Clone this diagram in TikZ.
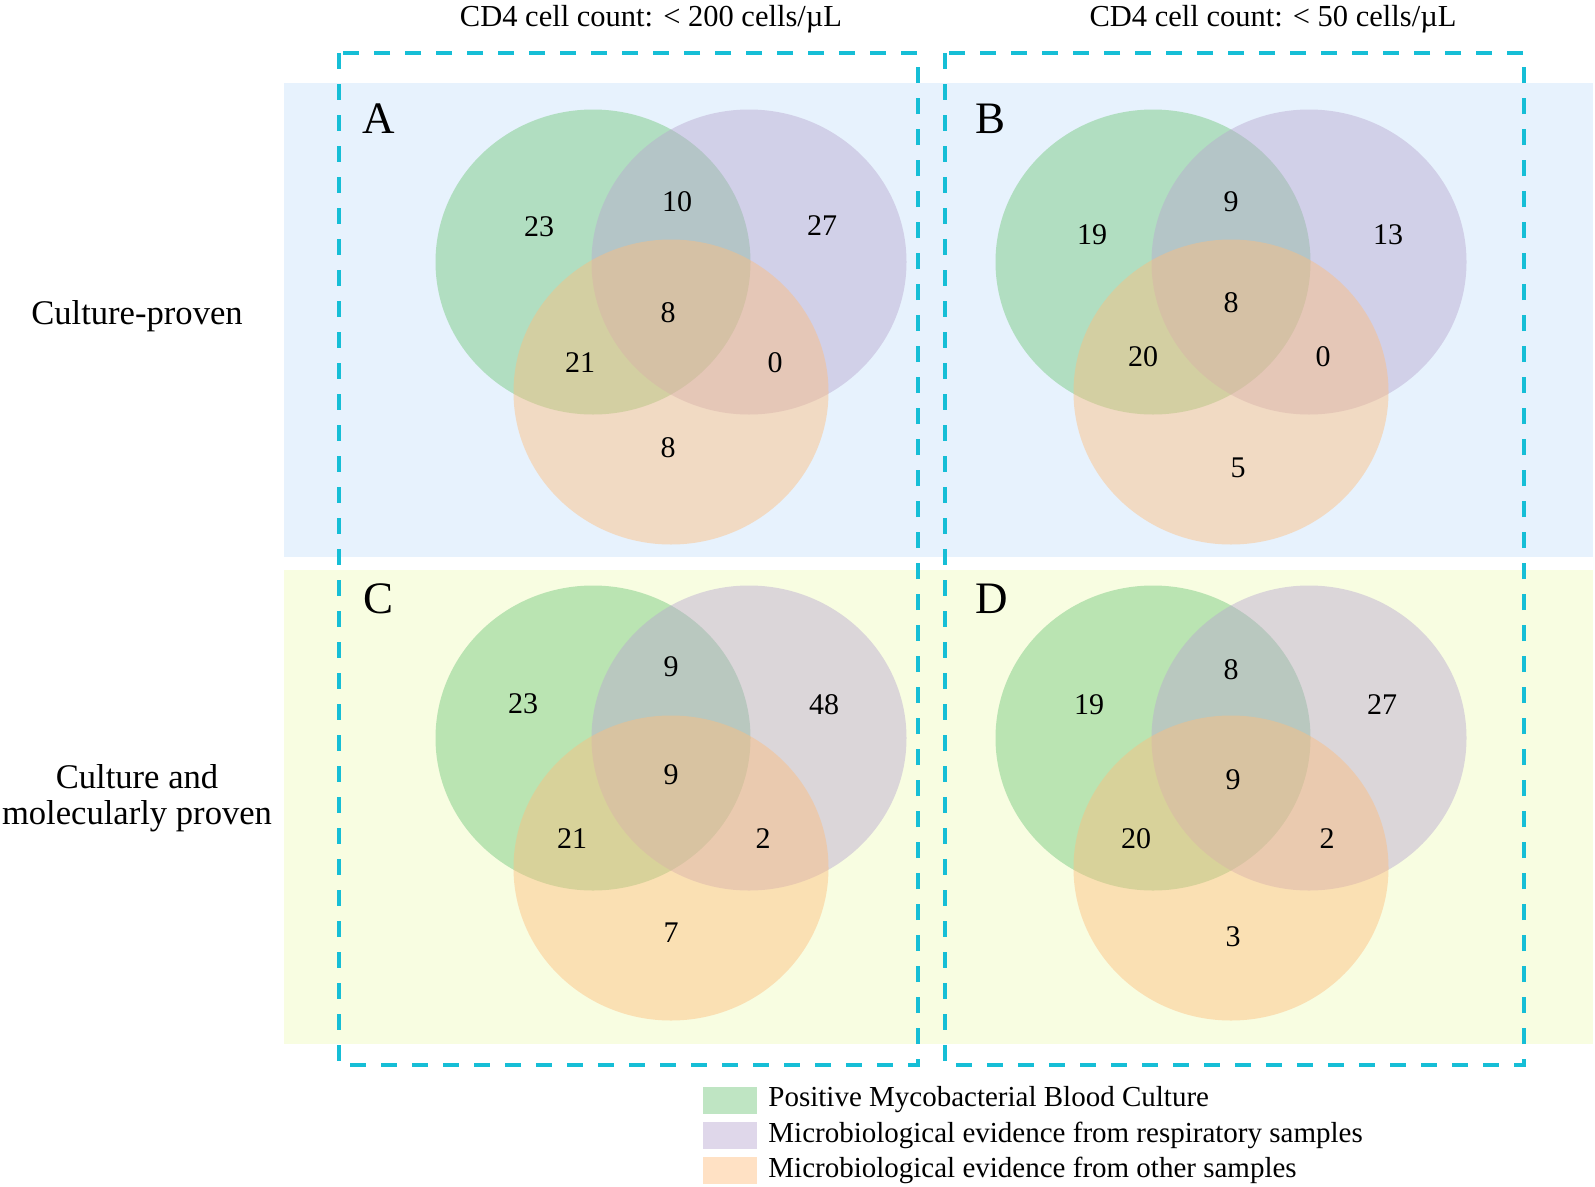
\documentclass[tikz,border=0pt]{standalone}
\usepackage{fontspec}
\setmainfont{Liberation Serif}
\usetikzlibrary{positioning}
\definecolor{setgreen}{RGB}{112,198,121}
\definecolor{setpurple}{RGB}{184,167,208}
\definecolor{setorange}{RGB}{254,189,125}
\definecolor{bandblue}{RGB}{231,242,253}
\definecolor{bandyellow}{RGB}{248,253,225}
\definecolor{boxcyan}{RGB}{22,190,214}
\tikzset{
  venn/.style={fill opacity=0.45},
  count/.style={inner sep=0pt, font=\fontsize{30}{32}\selectfont},
  letter/.style={anchor=base west, inner sep=0pt, font=\fontsize{45}{47}\selectfont},
  heading/.style={anchor=base, inner sep=0pt, font=\fontsize{30.5}{32}\selectfont},
  rowlabel/.style={align=center, inner sep=0pt, font=\fontsize{34.6}{36}\selectfont},
  keybox/.style={minimum width=54pt, minimum height=27pt, inner sep=0pt, fill opacity=0.45},
  keytext/.style={inner sep=0pt, font=\fontsize{29}{31}\selectfont},
}

\begin{document}
\begin{tikzpicture}[
    x=1pt, y=-1pt,
    dashbox/.style={draw=boxcyan, line width=3.5pt, dash pattern=on 16pt off 15pt},
    ]
    \useasboundingbox (0,0) rectangle (1595,1186);

    %bands
    \fill[bandblue] (284,83) rectangle (1593,557);
    \fill[bandyellow] (284,570) rectangle (1593,1044);

    %panel A
    \fill[setgreen, venn] (593,262) ellipse [x radius=157.5, y radius=152.5];
    \fill[setpurple, venn] (749,262) ellipse [x radius=157.5, y radius=152.5];
    \fill[setorange, venn] (671,392) ellipse [x radius=157.5, y radius=152.5];
    \node[letter] (labA) at (362,133) {A};
    \node[count] (a1) at (539,227) {23};
    \node[count] (a2) at (677,202) {10};
    \node[count] (a3) at (822,226) {27};
    \node[count] (a4) at (668,313) {8};
    \node[count] (a5) at (580,363) {21};
    \node[count] (a6) at (775,363) {0};
    \node[count] (a7) at (668,448) {8};

    %panel B
    \fill[setgreen, venn] (1153,262) ellipse [x radius=157.5, y radius=152.5];
    \fill[setpurple, venn] (1309,262) ellipse [x radius=157.5, y radius=152.5];
    \fill[setorange, venn] (1231,392) ellipse [x radius=157.5, y radius=152.5];
    \node[letter] (labB) at (975,133) {B};
    \node[count] (b1) at (1092,235) {19};
    \node[count] (b2) at (1231,202) {9};
    \node[count] (b3) at (1388,235) {13};
    \node[count] (b4) at (1231,303) {8};
    \node[count] (b5) at (1143,357) {20};
    \node[count] (b6) at (1323,357) {0};
    \node[count] (b7) at (1238,468) {5};

    %panel C
    \fill[setgreen, venn] (593,738) ellipse [x radius=157.5, y radius=152.5];
    \fill[setpurple, venn] (749,738) ellipse [x radius=157.5, y radius=152.5];
    \fill[setorange, venn] (671,868) ellipse [x radius=157.5, y radius=152.5];
    \node[letter] (labC) at (363,613) {C};
    \node[count] (c1) at (523,704) {23};
    \node[count] (c2) at (671,667) {9};
    \node[count] (c3) at (824,705) {48};
    \node[count] (c4) at (671,775) {9};
    \node[count] (c5) at (572,839) {21};
    \node[count] (c6) at (763,839) {2};
    \node[count] (c7) at (671,933) {7};

    %panel D
    \fill[setgreen, venn] (1153,738) ellipse [x radius=157.5, y radius=152.5];
    \fill[setpurple, venn] (1309,738) ellipse [x radius=157.5, y radius=152.5];
    \fill[setorange, venn] (1231,868) ellipse [x radius=157.5, y radius=152.5];
    \node[letter] (labD) at (975,613) {D};
    \node[count] (d1) at (1089,705) {19};
    \node[count] (d2) at (1231,670) {8};
    \node[count] (d3) at (1382,705) {27};
    \node[count] (d4) at (1233,780) {9};
    \node[count] (d5) at (1136,839) {20};
    \node[count] (d6) at (1327,839) {2};
    \node[count] (d7) at (1233,937) {3};

    %dashed frames
    \draw[dashbox] (339,53) rectangle (918,1065);
    \draw[dashbox] (945,53) rectangle (1524,1065);

    %headings
    \node[heading] (cd200) at (651,26) {CD4 cell count: < 200 cells/µL};
    \node[heading] (cd50) at (1273,26) {CD4 cell count: < 50 cells/µL};
    \node[rowlabel, anchor=base] (rowtop) at (137,324) {Culture-proven};
    \node[rowlabel] (rowbottom) at (137,798) {Culture and\\molecularly proven};

    %legend
    \node[keybox, fill=setgreen] (key1) at (730,1100) {};
    \node[keybox, fill=setpurple] (key2) at (730,1135) {};
    \node[keybox, fill=setorange] (key3) at (730,1170) {};
    \node[keytext, right=11pt of key1] (keylab1) {Positive Mycobacterial Blood Culture};
    \node[keytext, right=11pt of key2] (keylab2) {Microbiological evidence from respiratory samples};
    \node[keytext, right=11pt of key3] (keylab3) {Microbiological evidence from other samples};

\end{tikzpicture}
\end{document}
